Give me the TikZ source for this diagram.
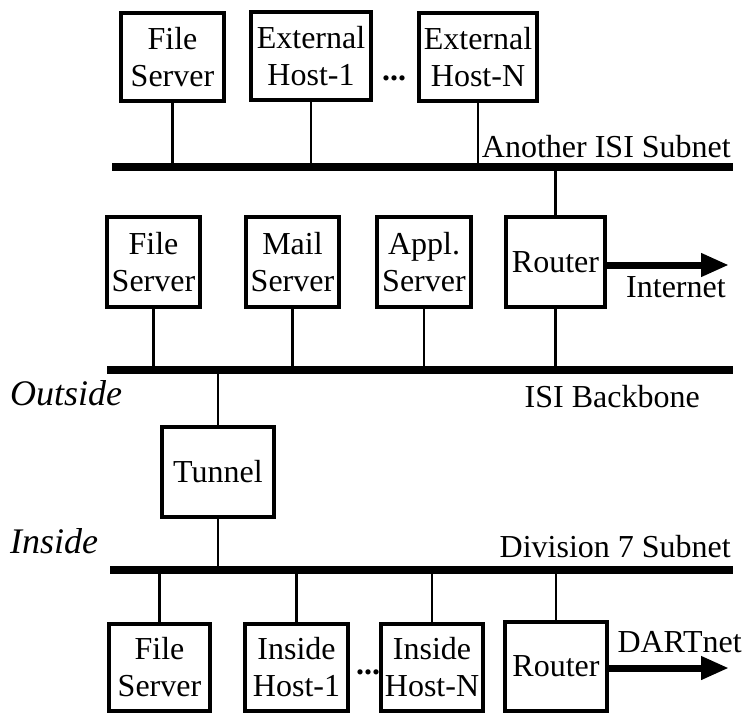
\documentclass[tikz,border=0pt]{standalone}
\usepackage{fontspec}
\setmainfont{Liberation Serif}
\usetikzlibrary{arrows.meta}

\begin{document}
\begin{tikzpicture}
[x=1pt,y=-1pt,
  boxDecorate/.style={draw,line width=3.2pt,align=center,inner sep=1pt},%
  lineDecorate/.style={-,line width=2.2pt},%
  busDecorate/.style={-,line width=8pt},%
  arrowDecorate/.style={-{Triangle[length=28pt,width=22pt]},line width=7pt},%
  labelDecorate/.style={inner sep=0pt},%
  sideDecorate/.style={anchor=base west,inner sep=0pt,font=\itshape\fontsize{36}{40}\selectfont}]
\useasboundingbox (0,0) rectangle (743,713);
\fontsize{32}{37}\selectfont
%% hosts, servers and routers
\foreach \nodename/\x/\y/\w/\h/\txt in {
  fsA/172.5/57/103/88/{File\\Server}, extA/311/56/120/88/{External\\Host-1},
  extN/478/57/118/88/{External\\Host-N},
  fsB/153.5/262/93/90/{File\\Server}, mail/292.5/262/93/90/{Mail\\Server},
  appl/424/262/94/90/{Appl.\\Server}, rtB/555.5/262/99/90/{Router},
  tunnel/218/472/112/90/{Tunnel},
  fsC/159.5/667.5/101/87/{File\\Server}, inA/296.5/667.5/103/87/{Inside\\Host-1},
  inN/432/667.5/102/87/{Inside\\Host-N}, rtC/556/666.5/102/89/{Router}}
{
  \node (\nodename) at (\x,\y) [boxDecorate,minimum width=\w pt,minimum height=\h pt] {\txt};
}
\node (dotsA) at (394,78) {\textbf{...}};
\node (dotsC) at (368,672) {\textbf{...}};
%% subnets
\coordinate (busA) at (112,167); \coordinate (busA-e) at (733,167);
\coordinate (busB) at (107,370); \coordinate (busB-e) at (733,370);
\coordinate (busC) at (110,570); \coordinate (busC-e) at (733,570);
\foreach \nodename/\busname in {fsA/busA, extA/busA, extN/busA, rtB/busA,
  fsB/busB, mail/busB, appl/busB, rtB/busB, tunnel/busB,
  tunnel/busC, fsC/busC, inA/busC, inN/busC, rtC/busC}
{
  \draw[lineDecorate] (\nodename) -- (\nodename |- \busname);
}
\foreach \busname in {busA, busB, busC}
  \draw[busDecorate] (\busname) -- (\busname-e);
%% links leaving the site
\coordinate (inetEnd) at (729,265);
\coordinate (dartEnd) at (729,668);
\draw[arrowDecorate] (rtB.east |- inetEnd) -- (inetEnd);
\draw[arrowDecorate] (rtC.east |- dartEnd) -- (dartEnd);
%% labels
\node (lblA) [labelDecorate,anchor=base east] at (731,157) {Another ISI Subnet};
\node (lblB) [labelDecorate,anchor=base east] at (700,407) {ISI Backbone};
\node (lblC) [labelDecorate,anchor=base east] at (731,557) {Division 7 Subnet};
\node (inet) [labelDecorate,anchor=base west] at (626,297) {Internet};
\node (dart) [labelDecorate,anchor=base east] at (742,652) {DARTnet};
\node (outside) [sideDecorate] at (10,405) {Outside};
\node (inside) [sideDecorate] at (10,553) {Inside};
\end{tikzpicture}
\end{document}
